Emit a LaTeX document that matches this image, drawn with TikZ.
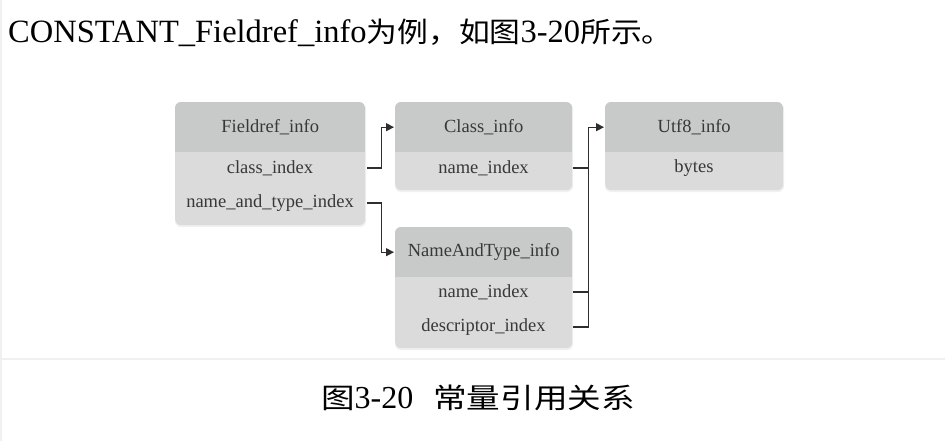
\documentclass[tikz,border=0pt]{standalone}
\usepackage{fontspec}
\setmainfont{Liberation Serif}
\newfontfamily\cjk{Noto Sans CJK SC}
\usetikzlibrary{arrows.meta}
\definecolor{hdr}{HTML}{C8CAC9}
\definecolor{bdy}{HTML}{DBDBDB}
\definecolor{txt}{HTML}{383838}
\definecolor{lnc}{HTML}{2E2E2E}
\definecolor{sep}{HTML}{F0F0F0}
\newcommand\cjtop[1]{\scalebox{1.1}[1]{\fontsize{28}{32}\selectfont\cjk #1}}
\newcommand\cjcap[1]{\scalebox{1.2}[1]{\fontsize{28}{32}\selectfont\cjk #1}}
% box: name, x1, y1, x2, ysplit, header text, y2
\newcommand\umlbox[7]{%
  \node[boxbody, anchor=north west, minimum width={#4-#2}, minimum height={#7-#3}] (#1) at (#2,#3) {};
  \begin{scope}
    \clip[rounded corners=6] (#2,#3) rectangle (#4,#7);
    \fill[hdr] (#2,#3) rectangle (#4,#5);
  \end{scope}
  \node[cell, minimum width={#4-#2}, minimum height={#5-#3}, anchor=north west] (#1-h) at (#2,#3) {#6};
}
\begin{document}
\begin{tikzpicture}[x=1pt, y=-1pt,
  boxbody/.style={fill=bdy, rounded corners=6, inner sep=0, draw=none},
  cell/.style={inner sep=0, font=\fontsize{18.5}{20}\selectfont, text=txt},
  conn/.style={draw=lnc, line width=1.2pt},
  arr/.style={conn, -{Triangle[length=8pt, width=8pt]}},
  shadowbox/.style={fill=black!6, rounded corners=6}]
\useasboundingbox (0,0) rectangle (945,441);
\fill[white] (0,0) rectangle (945,441);
\draw[sep, line width=2pt] (1,0) -- (1,441);
\draw[sep, line width=2pt] (0,359) -- (945,359);

\node[anchor=base west, inner sep=0, font=\fontsize{32.5}{36}\selectfont] (intro) at (8,43)
  {CONSTANT\_Fieldref\_info\cjtop{为例，如图}3-20\cjtop{所示。}};

% shadows
\fill[shadowbox] (175,103) rectangle (366,227);
\fill[shadowbox] (395,103) rectangle (573,192);
\fill[shadowbox] (395,228) rectangle (573,350);
\fill[shadowbox] (605,103) rectangle (784,192);

\umlbox{F}{175}{102}{365}{152}{Fieldref\_info}{225}
\umlbox{C}{395}{102}{572}{152}{Class\_info}{190}
\umlbox{N}{395}{227}{572}{277}{NameAndType\_info}{348}
\umlbox{U}{605}{102}{783}{152}{Utf8\_info}{190}

\node[cell, minimum width=190] (F-ci) at (270,168) {class\_index};
\node[cell, minimum width=190] (F-nt) at (270,203) {name\_and\_type\_index};
\node[cell, minimum width=177] (C-ni) at (483.5,168) {name\_index};
\node[cell, minimum width=177] (N-ni) at (483.5,292) {name\_index};
\node[cell, minimum width=177] (N-di) at (483.5,327) {descriptor\_index};
\node[cell, minimum width=178] (U-by) at (694,168) {bytes};

\draw[arr, shorten <=2pt, shorten >=1pt] (F-ci.east) -- ++(16,0) |- (C-h.west);
\draw[arr, shorten <=2pt, shorten >=1pt] (F-nt.east) -- ++(16,0) |- (N-h.west);
\draw[arr, shorten <=1pt, shorten >=1pt] (N-di.east) -- ++(16,0) |- (U-h.west);
\draw[conn, shorten <=1pt] (N-ni.east) -- ++(16,0);
\draw[conn, shorten <=1pt] (C-ni.east) -- ++(16,0);

\node[anchor=base, inner sep=0, font=\fontsize{32}{36}\selectfont] (cap) at (478,408)
  {\cjcap{图}3-20\hspace{20pt}\cjcap{常量引用关系}};
\end{tikzpicture}
\end{document}
